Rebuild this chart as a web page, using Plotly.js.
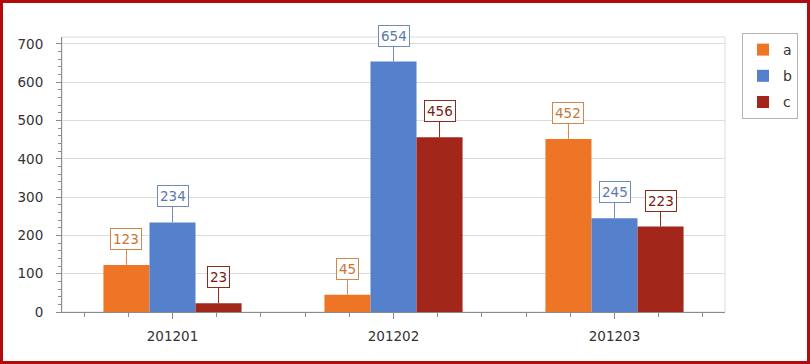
<!DOCTYPE html>
<html>
<head>
<meta charset="utf-8">
<script src="https://cdn.plot.ly/plotly-3.0.1.min.js"></script>
<style>
  html, body { margin: 0; padding: 0; background: #ffffff; }
  #frame { width: 810px; height: 364px; box-sizing: border-box; border: 3px solid #b30b0b; background: #fff; }
  #chart { width: 804px; height: 358px; }
</style>
</head>
<body>
<div id="frame"><div id="chart"></div></div>
<script>
// ---- data ----
const categories = ['201201', '201202', '201203'];
const seriesNames = ['a', 'b', 'c'];
const valuesA = [123, 45, 452];
const valuesB = [234, 654, 245];
const valuesC = [23, 456, 223];

// ---- styles ----
const barColors = ['#ee7526', '#5580cc', '#a2261a'];
const labelText = ['#c9743a', '#5a78a8', '#7a2010'];
const labelBorder = ['#d4864a', '#6f8cb8', '#8a2a1a'];
const FONT = 'DejaVu Sans, Verdana, sans-serif';
const bargap = 0.375;

const seriesValues = [valuesA, valuesB, valuesC];
const xIdx = categories.map((_, i) => i);

const traces = seriesValues.map((vals, s) => ({
  type: 'bar',
  name: seriesNames[s],
  x: xIdx,
  y: vals,
  legendgroup: 'g' + s,
  marker: { color: barColors[s], line: { width: 0 } },
  hoverinfo: 'name+y'
}));

const barW = (1 - bargap) / seriesValues.length;
const annotations = [];
seriesValues.forEach((vals, s) => {
  vals.forEach((v, i) => {
    annotations.push({
      x: i + (s - (seriesValues.length - 1) / 2) * barW,
      y: v,
      xref: 'x', yref: 'y',
      text: String(v),
      showarrow: true,
      arrowhead: 0,
      arrowwidth: 1,
      arrowcolor: labelBorder[s],
      ax: 0, ay: -26,
      standoff: 0,
      bgcolor: '#ffffff',
      bordercolor: labelBorder[s],
      borderwidth: 1,
      borderpad: 2,
      font: { family: FONT, size: 13.5, color: labelText[s] }
    });
  });
});

const layout = {
  width: 804,
  height: 358,
  margin: { l: 59, r: 82, t: 34, b: 49, autoexpand: false },
  paper_bgcolor: '#ffffff',
  plot_bgcolor: '#ffffff',
  barmode: 'group',
  bargap: bargap,
  bargroupgap: 0,
  font: { family: FONT, size: 13.5, color: '#333333' },
  xaxis: {
    type: 'linear',
    range: [-0.5, 2.5],
    tickmode: 'array',
    tickvals: xIdx,
    ticktext: categories,
    ticks: 'outside',
    ticklen: 6,
    tickcolor: '#8c8c8c',
    ticklabelstandoff: 6,
    showgrid: false,
    zeroline: false,
    showline: true,
    linecolor: '#8c8c8c',
    linewidth: 1,
    minor: { dtick: 0.2, tick0: 0, ticks: 'outside', ticklen: 4, tickcolor: '#8c8c8c', showgrid: false },
    tickfont: { family: FONT, size: 13.5, color: '#333333' },
    fixedrange: true
  },
  yaxis: {
    range: [0, 718],
    dtick: 100,
    tick0: 0,
    ticks: 'outside',
    ticklen: 5,
    tickcolor: '#8c8c8c',
    ticklabelstandoff: 10,
    showgrid: true,
    gridcolor: '#dcdcdc',
    gridwidth: 1,
    zeroline: false,
    showline: true,
    linecolor: '#8c8c8c',
    linewidth: 1,
    minor: { dtick: 20, ticks: 'outside', ticklen: 3, tickcolor: '#8c8c8c', showgrid: false },
    tickfont: { family: FONT, size: 13.5, color: '#333333' },
    fixedrange: true
  },
  shapes: [{
    type: 'rect', xref: 'paper', yref: 'paper', x0: 0, x1: 1, y0: 0, y1: 1,
    line: { color: '#dcdcdc', width: 1 }, layer: 'below'
  }],
  legend: {
    x: 1.0256, y: 1.0145, xanchor: 'left', yanchor: 'top',
    bgcolor: '#ffffff',
    bordercolor: '#b4b4b4',
    borderwidth: 1,
    traceorder: 'grouped',
    tracegroupgap: 5,
    itemwidth: 30,
    font: { family: FONT, size: 14, color: '#333333' },
    itemclick: false, itemdoubleclick: false
  },
  annotations: annotations,
  showlegend: true
};

Plotly.newPlot('chart', traces, layout, { displayModeBar: false, staticPlot: true });
</script>
</body>
</html>
